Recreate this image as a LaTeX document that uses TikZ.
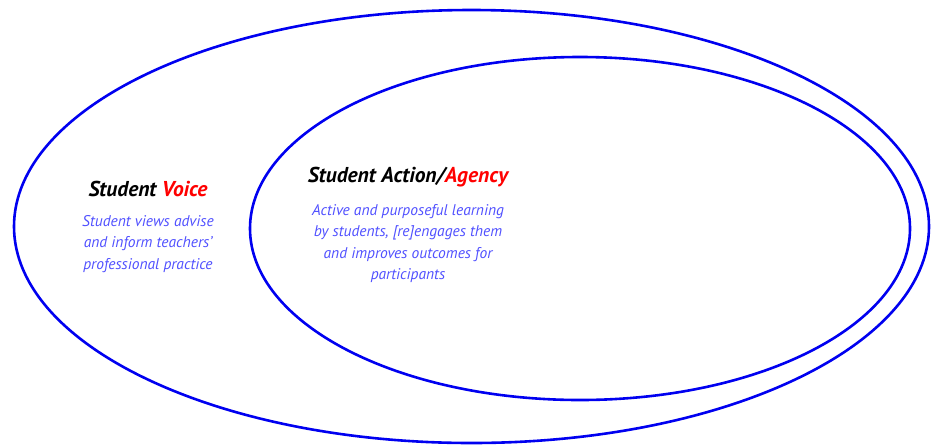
\documentclass[tikz,border=0pt]{standalone}
\usepackage{fontspec}
\setmainfont{PT Sans}
\definecolor{ringblue}{RGB}{0,0,240}
\definecolor{descblue}{RGB}{80,80,255}
\definecolor{accent}{RGB}{255,0,0}
\tikzset{
  ring/.style={draw=ringblue, line width=2.6pt},
  titletext/.style={font=\fontsize{21.5}{24}\selectfont\bfseries\itshape, inner sep=0pt},
  desctext/.style={font=\fontsize{15.5}{21.5}\selectfont\itshape, text=descblue, align=center, inner sep=0pt}
}
\begin{document}
\begin{tikzpicture}[x=1pt,y=-1pt]
\useasboundingbox (0,0) rectangle (941,445);
\draw[ring] (471.5,226.5) ellipse [x radius=457.5pt, y radius=216.5pt];
\draw[ring] (580,228.5) ellipse [x radius=330pt, y radius=171.5pt];
\node[titletext] (voice) at (148,189) {Student \textcolor{accent}{Voice}};
\node[desctext, anchor=north] (voicedesc) at (148,215) {Student views advise\\and inform teachers’\\professional practice};
\node[titletext] (agency) at (408,177) {Student Action/\textcolor{accent}{Agency}};
\node[desctext, anchor=north] (agencydesc) at (408,204) {Active and purposeful learning\\by students, [re]engages them\\and improves outcomes for\\participants};
\end{tikzpicture}
\end{document}
